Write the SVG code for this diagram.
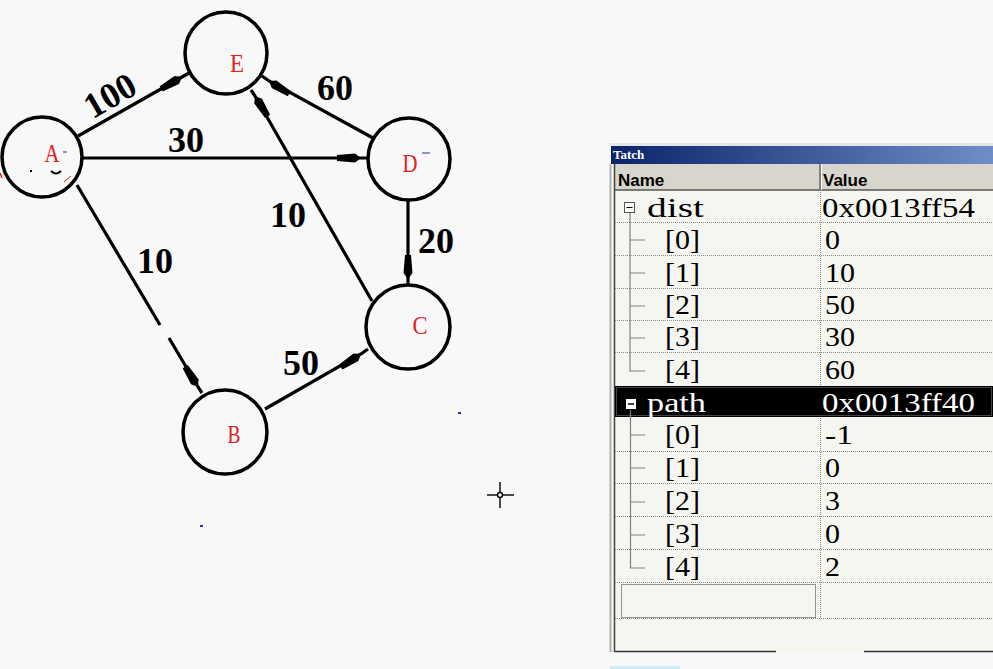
<svg xmlns="http://www.w3.org/2000/svg" width="993" height="669" viewBox="0 0 993 669">
<defs>
<style>
.node circle{fill:none;stroke:#000;stroke-width:3.5}
.nl{font-family:"Liberation Serif",serif;font-size:26px;fill:#e0201c;text-anchor:middle}
.edge{fill:none;stroke:#000;stroke-width:3.2;marker-mid:url(#ah)}
.plain{fill:none;stroke:#000;stroke-width:3.2}
.el{font-family:"Liberation Serif",serif;font-weight:bold;font-size:36px;fill:#000;text-anchor:middle}
.wt{font-family:"Liberation Serif",serif;font-size:28px;fill:#000}
.wh{font-family:"Liberation Sans",sans-serif;font-weight:bold;font-size:17px;fill:#000}
.sep{stroke:#8a8a8a;stroke-width:1;stroke-dasharray:1 1}
.tree{stroke:#808080;stroke-width:1.2;fill:none}
</style>
<marker id="ah" markerUnits="userSpaceOnUse" markerWidth="30" markerHeight="14" viewBox="-26 -7 30 14" refX="0" refY="0" orient="auto">
<path d="M0,0 L-6,-4.5 L-24,-3 L-24,3 L-6,4.5 Z" fill="#000"/>
</marker>
<linearGradient id="tb" x1="0" y1="0" x2="1" y2="0">
<stop offset="0" stop-color="#0a246a"/>
<stop offset="1" stop-color="#6d8ec8"/>
</linearGradient>
</defs>
<rect x="0" y="0" width="993" height="669" fill="#f8f8f8"/>

<g id="connectors">
<path class="edge" d="M78,136 L182,77 L189,73"/>
<path class="edge" d="M83,158 L361,158 L367,158"/>
<path class="edge" d="M373,138 L269,81 L262,76"/>
<path class="edge" d="M372,301 L255,96 L251,90"/>
<path class="edge" d="M408,201 L408,279 L408,284"/>
<path class="plain" d="M77,185 L160,325"/>
<path class="edge" d="M169,338 L198,387 L202,393"/>
<path class="edge" d="M265,409 L361,354 L368,349"/>
<g id="edge-labels">
<text class="el" transform="translate(116,106) rotate(-30)" font-size="34">100</text>
<text class="el" x="186" y="152">30</text>
<text class="el" x="335" y="100">60</text>
<text class="el" x="288" y="227">10</text>
<text class="el" x="436" y="253">20</text>
<text class="el" x="155" y="273">10</text>
<text class="el" x="301" y="375">50</text>
</g>
</g>

<g id="node-A" class="node"><circle cx="42" cy="157" r="40"/><text class="nl" x="52" y="162" textLength="15" lengthAdjust="spacingAndGlyphs">A</text></g>
<g id="node-E" class="node"><circle cx="226" cy="53" r="41"/><text class="nl" x="237" y="72" textLength="14" lengthAdjust="spacingAndGlyphs">E</text></g>
<g id="node-D" class="node"><circle cx="409" cy="159" r="41"/><text class="nl" x="410" y="172" textLength="15" lengthAdjust="spacingAndGlyphs">D</text></g>
<g id="node-C" class="node"><circle cx="408" cy="327" r="42"/><text class="nl" x="420" y="334" textLength="15" lengthAdjust="spacingAndGlyphs">C</text></g>
<g id="node-B" class="node"><circle cx="225" cy="432" r="42"/><text class="nl" x="234" y="443" textLength="13" lengthAdjust="spacingAndGlyphs">B</text></g>

<g id="marks">
<line x1="63" y1="152" x2="67" y2="152" stroke="#2030b0" stroke-width="1"/>
<line x1="422" y1="153" x2="430" y2="153" stroke="#2030b0" stroke-width="1"/>
<line x1="64" y1="182" x2="71" y2="176" stroke="#e0201c" stroke-width="1"/>
<path d="M51,171 Q56,176 61,171" stroke="#000" stroke-width="2" fill="none"/>
<rect x="30" y="170" width="2" height="2" fill="#000"/>
<line x1="0" y1="173" x2="2" y2="178" stroke="#e0201c" stroke-width="1.5"/>
<rect x="458" y="412" width="3" height="2" fill="#2030b0"/>
<rect x="200" y="525" width="3" height="2" fill="#2030b0"/>
<g stroke="#111" stroke-width="1.5" fill="none">
<line x1="487" y1="495" x2="497" y2="495"/><line x1="503" y1="495" x2="514" y2="495"/>
<line x1="500" y1="482" x2="500" y2="492"/><line x1="500" y1="498" x2="500" y2="508"/>
<circle cx="500" cy="495" r="2.5"/>
</g>
<rect x="610" y="666" width="70" height="3" fill="#cdeef6"/>
</g>

<g id="watch">
<rect x="609" y="143" width="384" height="509" fill="#f6f6f0"/>
<rect x="609" y="143" width="384" height="3" fill="#e6e6e6"/>
<rect x="611" y="146" width="382" height="18" fill="url(#tb)"/>
<text x="613" y="159" font-family="Liberation Serif,serif" font-weight="bold" font-size="13" fill="#fff">Tatch</text>
<rect x="615" y="164" width="378" height="26" fill="#d8d5cc"/>
<line x1="615" y1="190" x2="993" y2="190" stroke="#555" stroke-width="1.5"/>
<line x1="820" y1="164" x2="820" y2="190" stroke="#666" stroke-width="1.5"/>
<line x1="821.5" y1="164" x2="821.5" y2="190" stroke="#fff" stroke-width="1"/>
<text class="wh" x="618" y="186">Name</text>
<text class="wh" x="823" y="186">Value</text>
<line x1="610.5" y1="164" x2="610.5" y2="652" stroke="#b0b0b0" stroke-width="2"/>
<line x1="614.5" y1="164" x2="614.5" y2="652" stroke="#404040" stroke-width="1.5"/>
<line x1="615" y1="651.5" x2="776" y2="651.5" stroke="#333" stroke-width="1.5"/>
<line x1="864" y1="651.5" x2="993" y2="651.5" stroke="#333" stroke-width="1.5"/>

<g id="rows">
<line class="sep" x1="615" y1="222.5" x2="993" y2="222.5"/>
<line class="sep" x1="615" y1="255.5" x2="993" y2="255.5"/>
<line class="sep" x1="615" y1="288.5" x2="993" y2="288.5"/>
<line class="sep" x1="615" y1="320.5" x2="993" y2="320.5"/>
<line class="sep" x1="615" y1="352.5" x2="993" y2="352.5"/>
<line class="sep" x1="615" y1="451.5" x2="993" y2="451.5"/>
<line class="sep" x1="615" y1="483.5" x2="993" y2="483.5"/>
<line class="sep" x1="615" y1="516.5" x2="993" y2="516.5"/>
<line class="sep" x1="615" y1="549.5" x2="993" y2="549.5"/>
<line class="sep" x1="615" y1="582.5" x2="993" y2="582.5"/>
<line class="sep" x1="615" y1="618.5" x2="993" y2="618.5"/>
<line class="sep" x1="820.5" y1="190" x2="820.5" y2="618"/>

<rect x="615" y="386" width="378" height="31" fill="#000"/>
<rect x="616.5" y="387.5" width="375" height="28" fill="none" stroke="#888" stroke-width="1" stroke-dasharray="1 1"/>
<rect x="621.5" y="584.5" width="194" height="33" fill="none" stroke="#333" stroke-width="1" stroke-dasharray="1 1"/>

<rect x="624.5" y="202.5" width="10" height="10" fill="#fff" stroke="#555" stroke-width="1"/>
<line x1="626.5" y1="207.5" x2="632.5" y2="207.5" stroke="#000" stroke-width="1"/>
<path class="tree" d="M630,213 V371 H645 M630,240 H645 M630,273 H645 M630,306 H645 M630,338 H645"/>
<rect x="626" y="399" width="10" height="10" fill="#fff"/>
<line x1="628" y1="404" x2="634" y2="404" stroke="#000" stroke-width="1.5"/>
<path class="tree" d="M630.5,410 V568 H645 M630.5,435 H645 M630.5,468 H645 M630.5,502 H645 M630.5,535 H645"/>

<text class="wt" x="647" y="217" textLength="57" lengthAdjust="spacingAndGlyphs">dist</text>
<text class="wt" x="665" y="249" textLength="35" lengthAdjust="spacingAndGlyphs">[0]</text>
<text class="wt" x="665" y="282" textLength="35" lengthAdjust="spacingAndGlyphs">[1]</text>
<text class="wt" x="665" y="314" textLength="35" lengthAdjust="spacingAndGlyphs">[2]</text>
<text class="wt" x="665" y="346" textLength="35" lengthAdjust="spacingAndGlyphs">[3]</text>
<text class="wt" x="665" y="379" textLength="35" lengthAdjust="spacingAndGlyphs">[4]</text>
<text class="wt" x="647" y="412" style="fill:#fff" textLength="59" lengthAdjust="spacingAndGlyphs">path</text>
<text class="wt" x="665" y="444" textLength="35" lengthAdjust="spacingAndGlyphs">[0]</text>
<text class="wt" x="665" y="477" textLength="35" lengthAdjust="spacingAndGlyphs">[1]</text>
<text class="wt" x="665" y="510" textLength="35" lengthAdjust="spacingAndGlyphs">[2]</text>
<text class="wt" x="665" y="543" textLength="35" lengthAdjust="spacingAndGlyphs">[3]</text>
<text class="wt" x="665" y="576" textLength="35" lengthAdjust="spacingAndGlyphs">[4]</text>

<text class="wt" x="822" y="217" textLength="153" lengthAdjust="spacingAndGlyphs">0x0013ff54</text>
<text class="wt" x="825" y="249" textLength="15" lengthAdjust="spacingAndGlyphs">0</text>
<text class="wt" x="825" y="282" textLength="30" lengthAdjust="spacingAndGlyphs">10</text>
<text class="wt" x="825" y="314" textLength="30" lengthAdjust="spacingAndGlyphs">50</text>
<text class="wt" x="825" y="346" textLength="30" lengthAdjust="spacingAndGlyphs">30</text>
<text class="wt" x="825" y="379" textLength="30" lengthAdjust="spacingAndGlyphs">60</text>
<text class="wt" x="822" y="412" style="fill:#fff" textLength="153" lengthAdjust="spacingAndGlyphs">0x0013ff40</text>
<text class="wt" x="825" y="444" textLength="28" lengthAdjust="spacingAndGlyphs">-1</text>
<text class="wt" x="825" y="477" textLength="15" lengthAdjust="spacingAndGlyphs">0</text>
<text class="wt" x="825" y="510" textLength="15" lengthAdjust="spacingAndGlyphs">3</text>
<text class="wt" x="825" y="543" textLength="15" lengthAdjust="spacingAndGlyphs">0</text>
<text class="wt" x="825" y="576" textLength="15" lengthAdjust="spacingAndGlyphs">2</text>
</g>
</g>
</svg>
